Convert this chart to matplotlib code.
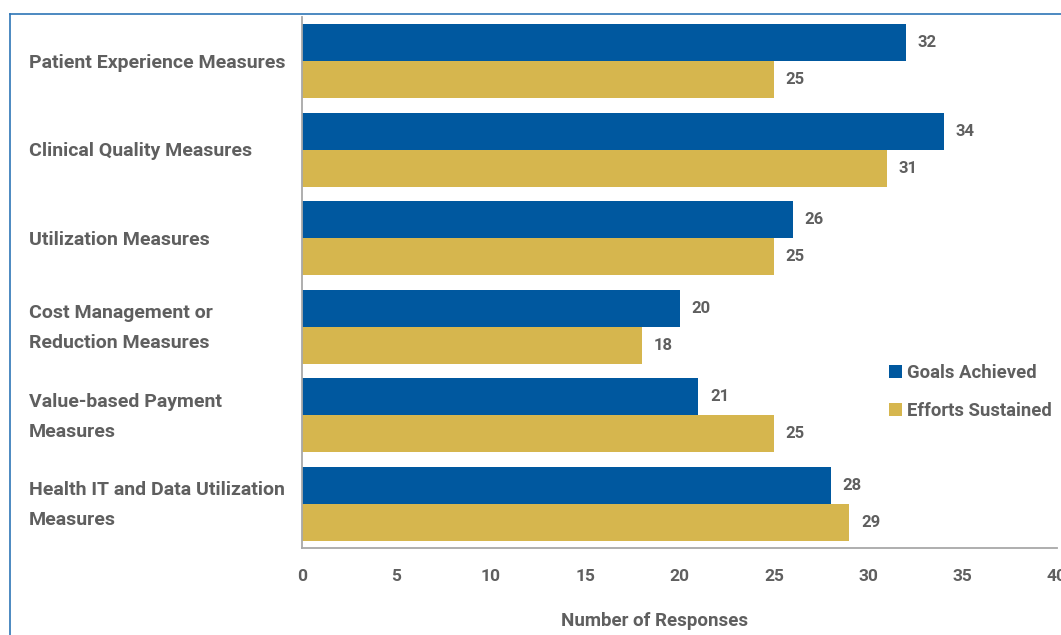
import numpy as np
import matplotlib.pyplot as plt
from matplotlib.lines import Line2D
from matplotlib.transforms import blended_transform_factory

categories = [
    "Patient Experience Measures",
    "Clinical Quality Measures",
    "Utilization Measures",
    "Cost Management or\nReduction Measures",
    "Value-based Payment\nMeasures",
    "Health IT and Data Utilization\nMeasures",
]
goals_achieved = [32, 34, 26, 20, 21, 28]
efforts_sustained = [25, 31, 25, 18, 25, 29]
x_ticks = [0, 5, 10, 15, 20, 25, 30, 35, 40]

blue = "#00589f"
gold = "#d6b64e"
grey_text = "#5f5f5f"
grey_line = "#a8a8a8"

plt.rcParams['font.family'] = ['Roboto', 'DejaVu Sans']
plt.rcParams['font.weight'] = 'bold'

fig = plt.figure(figsize=(10.61, 6.35), dpi=100)
ax = fig.add_axes([302/1061, 1 - 548/635, 755/1061, 531/635])

y = np.arange(len(categories))
h = 0.42
bars1 = ax.barh(y - h/2, goals_achieved, height=h, color=blue, label="Goals Achieved")
bars2 = ax.barh(y + h/2, efforts_sustained, height=h, color=gold, label="Efforts Sustained")

for bars, vals in [(bars1, goals_achieved), (bars2, efforts_sustained)]:
    for b, v in zip(bars, vals):
        ax.annotate(str(v), (v, b.get_y() + b.get_height()/2), xytext=(8.5, 0),
                    textcoords='offset points', ha='left', va='center',
                    fontsize=12, color=grey_text, fontweight='bold')

ax.set_xlim(0, 40)
ax.set_ylim(len(categories) - 0.5, -0.5)
ax.set_xticks(x_ticks)
ax.set_xticklabels([str(t) for t in x_ticks], fontsize=12.5, color=grey_text)
ax.set_yticks(y)
ax.set_yticklabels([])
ax.tick_params(axis='y', length=0)
ax.tick_params(axis='x', length=0, pad=15)

# category names, left-aligned in the margin
trans = blended_transform_factory(fig.transFigure, ax.transData)
for yi, name in zip(y, categories):
    ax.text(29/1061, yi + 0.015, name, transform=trans, ha='left', va='center',
            fontsize=14, color=grey_text, fontweight='bold', linespacing=1.85,
            clip_on=False)

for s in ['top', 'right']:
    ax.spines[s].set_visible(False)
for s in ['left', 'bottom']:
    ax.spines[s].set_color(grey_line)
    ax.spines[s].set_linewidth(1.3)

ax.set_xlabel("Number of Responses", fontsize=13.5, color=grey_text,
              fontweight='bold', va='center')
ax.xaxis.set_label_coords(0.4675, -0.1375)

fig.legend(handles=[bars1, bars2], loc='center left', bbox_to_anchor=(889/1061, 1 - 392/635),
           frameon=False, fontsize=13.3, labelcolor=grey_text, borderpad=0, borderaxespad=0,
           handlelength=0.7, handleheight=0.7, handletextpad=0.25, labelspacing=1.1)

# outer frame around the figure panel
frame_color = "#2e75b6"
fig.add_artist(Line2D([10/1061, 10/1061], [0, 1 - 14/635], color=frame_color, lw=1.2,
                      transform=fig.transFigure))
fig.add_artist(Line2D([10/1061, 1], [1 - 14/635, 1 - 14/635], color=frame_color, lw=1.2,
                      transform=fig.transFigure))

fig.savefig("out.png", dpi=100)
